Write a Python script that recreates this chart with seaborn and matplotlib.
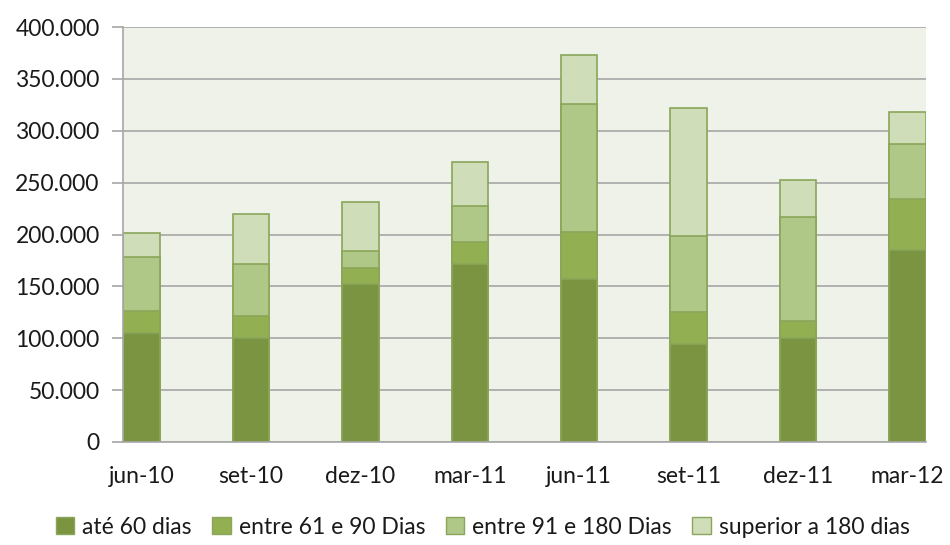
import matplotlib
matplotlib.use("Agg")
import matplotlib.pyplot as plt
from matplotlib.patches import Patch
from matplotlib.ticker import FuncFormatter, FixedLocator
import seaborn as sns
import pandas as pd
import numpy as np

# ---- data ----
periodos = ["jun-10", "set-10", "dez-10", "mar-11", "jun-11", "set-11", "dez-11", "mar-12"]
ate_60 = [105000, 100000, 152000, 172000, 157000, 94000, 100000, 185000]
entre_61_90 = [21500, 21000, 16000, 21000, 45000, 31000, 17000, 49000]
entre_91_180 = [52000, 51000, 16000, 34000, 124000, 74000, 100000, 53000]
superior_180 = [22500, 48000, 47000, 43000, 47000, 123000, 35500, 31000]
series_names = ["até 60 dias", "entre 61 e 90 Dias", "entre 91 e 180 Dias", "superior a 180 dias"]
colors = ["#7A9442", "#92AF52", "#AFC787", "#CFDDB9"]
edge = "#8AA65A"

series = [ate_60, entre_61_90, entre_91_180, superior_180]
cum = np.cumsum(np.array(series), axis=0)

sns.set_style("white")
plt.rcParams['font.family'] = ['Lato', 'DejaVu Sans']

fig = plt.figure(figsize=(9.5, 5.45), dpi=100)
ax = fig.add_axes([123.3 / 950, 1 - 442 / 545, (925.7 - 123.3) / 950, (442 - 27) / 545])
ax.set_facecolor("#EFF2E9")

bw = 1 / 3
for k in range(3, -1, -1):
    df = pd.DataFrame({"periodo": periodos, "valor": cum[k]})
    sns.barplot(data=df, x="periodo", y="valor", order=periodos, color=colors[k],
                width=bw, edgecolor=edge, linewidth=1.2, saturation=1, ax=ax, zorder=3)

ax.set_ylim(0, 400000)
ax.set_xlim(-bw / 2, len(periodos) - 1 + bw / 2)
ax.set_yticks(np.arange(0, 400001, 50000))
ax.yaxis.set_major_formatter(FuncFormatter(lambda v, p: f"{int(v):,}".replace(",", ".")))
ax.grid(axis="y", color="#A6A6A6", linewidth=1.2, zorder=0)
ax.set_axisbelow(True)

fs = 16.5
ax.set_xticks(np.arange(len(periodos)))
ax.set_xticklabels(periodos)
ax.xaxis.set_minor_locator(FixedLocator(np.arange(len(periodos)) - bw / 2))
ax.tick_params(axis="x", which="major", length=0, pad=17, labelsize=fs, labelcolor="#1a1a1a")
ax.tick_params(axis="x", which="minor", length=7, width=1.2, color="#A6A6A6", direction="out")
ax.tick_params(axis="y", length=8, width=1.2, color="#A6A6A6", pad=9, labelsize=fs,
               labelcolor="#1a1a1a", direction="out", left=True)
ax.set_xlabel("")
ax.set_ylabel("")

for s in ["top", "right"]:
    ax.spines[s].set_visible(False)
for s in ["left", "bottom"]:
    ax.spines[s].set_color("#A6A6A6")
    ax.spines[s].set_linewidth(1.2)
    ax.spines[s].set_zorder(4)

handles = [Patch(facecolor=colors[i], edgecolor=edge, label=series_names[i]) for i in range(4)]
fig.legend(handles=handles, loc="center", bbox_to_anchor=(0.508, 1 - 527 / 545), ncol=4,
           frameon=False, fontsize=fs, handlelength=0.8, handleheight=0.8,
           handletextpad=0.35, columnspacing=0.9, labelcolor="#1a1a1a")

fig.savefig("out.png", dpi=100)
